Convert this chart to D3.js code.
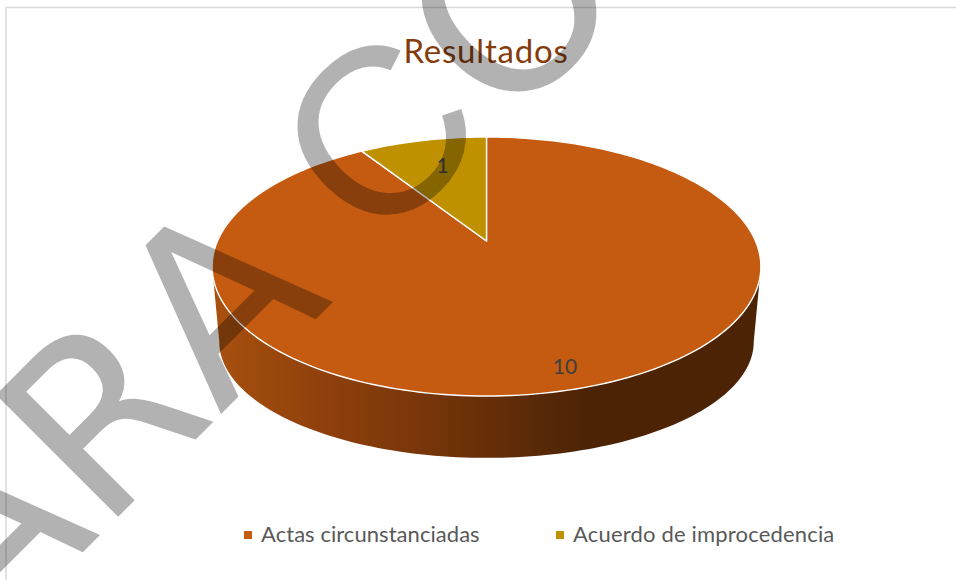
<!DOCTYPE html>
<html>
<head>
<meta charset="utf-8">
<script src="https://cdn.jsdelivr.net/npm/d3@7"></script>
<style>
html, body { margin: 0; padding: 0; background: #fff; }
svg { display: block; }
text { font-family: Lato, "Open Sans", sans-serif; }
text.wm { font-family: "DejaVu Sans", sans-serif; }
text.wm.c { font-family: "Liberation Sans", sans-serif; }
</style>
</head>
<body>
<div id="chart"></div>
<script>
const categories = ["Actas circunstanciadas", "Acuerdo de improcedencia"];
const values = [10, 1];
const colors = ["#C55A11", "#BF9000"];
const chartTitle = "Resultados";
const wmLetters = ["A", "R", "A", "C", "O"];
const wmX = [44, 160, 277, 436, 570];
const wmBase = [635, 635, 635, 628, 635];

const width = 956, height = 580;
const svg = d3.select("#chart").append("svg").attr("width", width).attr("height", height);

// perspective of the tilted disc: (X, Y) on unit circle -> screen
const tilt = 0.197;
const cx = 486.5;
const topFace = { y0: 241, a: 124.5, b: 269 };
const bottomFace = { y0: 319, a: 111.5, b: 262 };

const project = (face, angle, r = 1) => {
	const X = r * Math.sin(angle), Y = -r * Math.cos(angle);
	const d = 1 - tilt * Y;
	return [cx + face.b * X / d, face.y0 + face.a * Y / d];
};

const pie = d3.pie().sort(null).value(d => d)(values);
const color = d3.scaleOrdinal().domain(categories).range(colors);
const line = d3.line();

// frame
svg.append("path")
	.attr("d", `M6,${height}V7.5H${width}`)
	.attr("fill", "none").attr("stroke", "#d9d9d9").attr("stroke-width", 1.5);

// side wall
const grad = svg.append("defs").append("linearGradient")
	.attr("id", "wall").attr("gradientUnits", "userSpaceOnUse")
	.attr("x1", 213).attr("x2", 760).attr("y1", 0).attr("y2", 0);
[[0, "#a8500f"], [0.22, "#8d3f0b"], [0.45, "#6e3209"], [0.68, "#4c2405"], [1, "#4c2405"]]
	.forEach(s => grad.append("stop").attr("offset", s[0]).attr("stop-color", s[1]));

const wallFrom = Math.acos(-tilt);
const wallTo = 2 * Math.PI - wallFrom;
const wallSteps = d3.range(0, 121).map(i => wallFrom + (wallTo - wallFrom) * i / 120);
svg.append("path")
	.attr("d", line(wallSteps.map(a => project(topFace, a)).concat(wallSteps.slice().reverse().map(a => project(bottomFace, a)))) + "Z")
	.attr("fill", "url(#wall)");

// top face slices
svg.selectAll("path.slice").data(pie).enter().append("path")
	.attr("class", "slice")
	.attr("d", d => {
		const n = Math.ceil((d.endAngle - d.startAngle) * 40);
		const rim = d3.range(0, n + 1).map(i => project(topFace, d.startAngle + (d.endAngle - d.startAngle) * i / n));
		return line([[cx, topFace.y0]].concat(rim)) + "Z";
	})
	.attr("fill", (d, i) => color(categories[i]))
	.attr("stroke", "#fff").attr("stroke-width", 1.4).attr("stroke-linejoin", "round");

// data labels
const labelR = [0.875, 0.72];
const labelDx = [-1, 4];
svg.selectAll("text.val").data(pie).enter().append("text")
	.attr("class", "val")
	.attr("transform", (d, i) => {
		const p = project(topFace, (d.startAngle + d.endAngle) / 2, labelR[i]);
		return `translate(${p[0] + labelDx[i]},${p[1]})`;
	})
	.attr("text-anchor", "middle").attr("dy", "0.36em")
	.attr("font-size", 21).attr("fill", "#404040")
	.text(d => d.value);

// title
svg.append("text")
	.attr("x", 486).attr("y", 63).attr("text-anchor", "middle")
	.attr("font-size", 33).attr("letter-spacing", 0.8).attr("fill", "#843C0C")
	.text(chartTitle);

// legend
const legendX = [244, 556];
const legend = svg.selectAll("g.leg").data(categories).enter().append("g")
	.attr("class", "leg")
	.attr("transform", (d, i) => `translate(${legendX[i]},531)`);
legend.append("rect").attr("width", 8).attr("height", 8).attr("fill", d => color(d));
legend.append("text").attr("x", 17).attr("y", 11)
	.attr("font-size", 22).attr("letter-spacing", (d, i) => i ? 0.18 : 0.05).attr("fill", "#595959")
	.text(d => d);

// watermark
const mark = svg.append("g").style("mix-blend-mode", "multiply");
mark.selectAll("text").data(wmLetters).enter().append("text")
	.attr("class", d => d == "C" ? "wm c" : "wm")
	.attr("transform", (d, i) => `translate(${wmX[i]},${wmBase[i] - wmX[i]}) rotate(-45)`)
	.attr("text-anchor", "middle")
	.attr("font-size", 237).attr("fill", "#b2b2b2")
	.text(d => d);
</script>
</body>
</html>
